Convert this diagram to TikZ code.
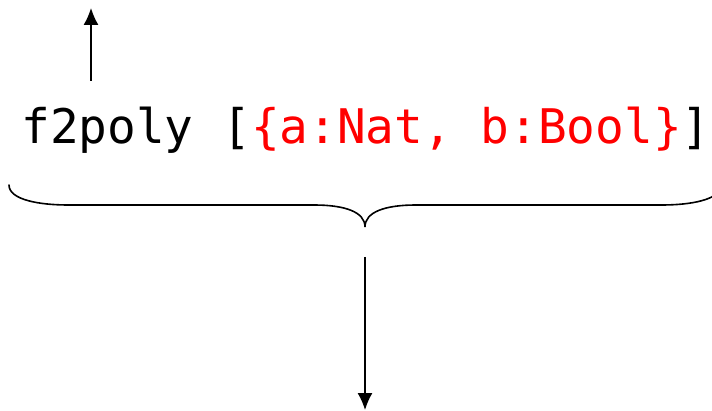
\documentclass[tikz,border=0pt]{standalone}
\usepackage{fontspec}
\newfontfamily\codefont{DejaVu Sans Mono}
\usetikzlibrary{arrows.meta}
\definecolor{codered}{RGB}{255,0,0}
\tikzset{
  codetext/.style={inner sep=0pt, font=\codefont\fontsize{47.7pt}{52pt}\selectfont},
  arr/.style={line width=1.4pt, -{Latex[length=17pt,width=15pt]}},
  bracestyle/.style={line width=1.6pt, line cap=round}
}
\begin{document}
\begin{tikzpicture}
\useasboundingbox (0pt,0pt) rectangle (712pt,-411pt);
\node[codetext, anchor=base] (t) at (366pt,-144pt) {f2poly [\textcolor{codered}{\{a:Nat, b:Bool\}}]};
\coordinate (upbot) at (91pt,-81pt);
\coordinate (uptop) at (91pt,-8pt);
\draw[arr] (upbot) -- (uptop);
\coordinate (bl) at (9pt,-185pt);
\coordinate (tip) at (365pt,-227pt);
\coordinate (br) at (721pt,-185pt);
\draw[bracestyle] (bl) .. controls (9pt,-200pt) and (40pt,-205pt) .. (68pt,-205pt) -- (314pt,-205pt)
  .. controls (345pt,-205pt) and (365pt,-212pt) .. (tip)
  .. controls (365pt,-212pt) and (385pt,-205pt) .. (416pt,-205pt) -- (662pt,-205pt)
  .. controls (690pt,-205pt) and (721pt,-200pt) .. (br);
\coordinate (dtop) at (365pt,-257pt);
\coordinate (dbot) at (365pt,-410pt);
\draw[arr] (dtop) -- (dbot);
\end{tikzpicture}
\end{document}
